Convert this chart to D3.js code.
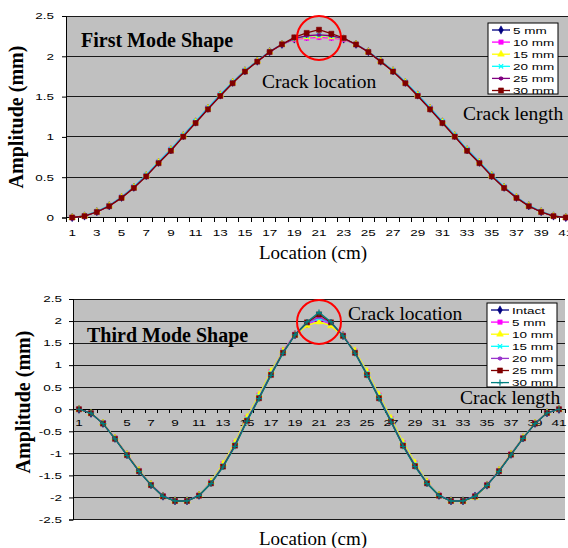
<!DOCTYPE html>
<html>
<head>
<meta charset="utf-8">
<script src="https://cdn.jsdelivr.net/npm/d3@7"></script>
<style>
html,body{margin:0;padding:0;background:#fff;}
svg{display:block;}
</style>
</head>
<body>
<svg id="chart" width="568" height="548"></svg>
<script>
// ---------- DATA ----------
const locations = d3.range(1, 42).map(String); // 1..41 cm
const xTickLabels = ["1","3","5","7","9","11","13","15","17","19","21","23","25","27","29","31","33","35","37","39","41"];
const yTicksFirst = [0, 0.5, 1, 1.5, 2, 2.5];
const yTickLabelsFirst = ["0","0.5","1","1.5","2","2.5"];
const yTicksThird = [-2.5,-2,-1.5,-1,-0.5,0,0.5,1,1.5,2,2.5];
const yTickLabelsThird = ["-2.5","-2","-1.5","-1","-0.5","0","0.5","1","1.5","2","2.5"];

// First mode shape (amplitude mm)
const first5mm  = [0,0.019,0.072,0.146,0.25,0.375,0.52,0.685,0.84,1.015,1.185,1.355,1.52,1.677,1.82,1.94,2.057,2.149,2.215,2.245,2.255,2.245,2.215,2.149,2.057,1.94,1.82,1.677,1.52,1.355,1.185,1.015,0.84,0.685,0.52,0.375,0.25,0.146,0.072,0.019,0];
const first10mm = [0,0.02,0.074,0.149,0.254,0.38,0.525,0.69,0.846,1.02,1.19,1.36,1.525,1.68,1.823,1.942,2.058,2.148,2.21,2.225,2.235,2.225,2.21,2.148,2.058,1.942,1.823,1.68,1.525,1.36,1.19,1.02,0.846,0.69,0.525,0.38,0.254,0.149,0.074,0.02,0];
const first15mm = [0,0.019,0.073,0.147,0.252,0.377,0.522,0.687,0.842,1.017,1.187,1.357,1.522,1.678,1.821,1.941,2.057,2.149,2.215,2.24,2.25,2.24,2.215,2.149,2.057,1.941,1.821,1.678,1.522,1.357,1.187,1.017,0.842,0.687,0.522,0.377,0.252,0.147,0.073,0.019,0];
const first20mm = [0,0.02,0.075,0.15,0.255,0.382,0.528,0.692,0.848,1.022,1.192,1.362,1.527,1.683,1.825,1.944,2.06,2.15,2.218,2.25,2.26,2.25,2.218,2.15,2.06,1.944,1.825,1.683,1.527,1.362,1.192,1.022,0.848,0.692,0.528,0.382,0.255,0.15,0.075,0.02,0];
const first25mm = [0,0.018,0.07,0.144,0.247,0.372,0.516,0.68,0.835,1.01,1.18,1.35,1.515,1.672,1.816,1.937,2.055,2.148,2.22,2.255,2.265,2.255,2.22,2.148,2.055,1.937,1.816,1.672,1.515,1.35,1.18,1.01,0.835,0.68,0.516,0.372,0.247,0.144,0.07,0.018,0];
const first30mm = [0,0.017,0.068,0.14,0.243,0.367,0.51,0.674,0.828,1.003,1.172,1.342,1.508,1.666,1.811,1.934,2.053,2.149,2.235,2.29,2.33,2.28,2.227,2.147,2.053,1.934,1.811,1.666,1.508,1.342,1.172,1.003,0.828,0.674,0.51,0.367,0.243,0.14,0.068,0.017,0];

// Third mode shape (amplitude mm)
const thirdIntact = [0,-0.09,-0.32,-0.66,-1.03,-1.395,-1.71,-1.97,-2.077,-2.077,-1.95,-1.66,-1.27,-0.79,-0.22,0.29,0.82,1.31,1.69,1.94,2.05,1.94,1.67,1.3,0.82,0.29,-0.24,-0.79,-1.25,-1.66,-1.95,-2.077,-2.077,-1.97,-1.72,-1.395,-1.02,-0.65,-0.32,-0.08,0];
const third5mm    = [0,-0.09,-0.31,-0.65,-1.02,-1.385,-1.7,-1.965,-2.075,-2.075,-1.945,-1.645,-1.24,-0.76,-0.19,0.32,0.85,1.33,1.7,1.93,2.04,1.93,1.68,1.32,0.85,0.32,-0.21,-0.76,-1.22,-1.645,-1.945,-2.075,-2.075,-1.965,-1.71,-1.385,-1.01,-0.64,-0.31,-0.08,0];
const third10mm   = [0,-0.09,-0.31,-0.65,-1.02,-1.38,-1.7,-1.975,-2.08,-2.08,-1.945,-1.64,-1.235,-0.75,-0.18,0.33,0.86,1.33,1.68,1.9,1.98,1.89,1.66,1.33,0.86,0.33,-0.2,-0.75,-1.21,-1.64,-1.945,-2.08,-2.085,-1.995,-1.72,-1.38,-1.01,-0.64,-0.31,-0.08,0];
const third15mm   = [0,-0.09,-0.32,-0.66,-1.03,-1.395,-1.71,-1.97,-2.077,-2.077,-1.95,-1.66,-1.27,-0.79,-0.22,0.29,0.82,1.31,1.69,1.95,2.06,1.95,1.67,1.3,0.82,0.29,-0.24,-0.79,-1.25,-1.66,-1.95,-2.077,-2.077,-1.97,-1.72,-1.395,-1.02,-0.65,-0.32,-0.08,0];
const third20mm   = [0,-0.09,-0.32,-0.665,-1.035,-1.4,-1.715,-1.97,-2.077,-2.077,-1.955,-1.67,-1.285,-0.805,-0.24,0.27,0.8,1.3,1.69,1.96,2.09,1.96,1.67,1.29,0.8,0.27,-0.26,-0.805,-1.265,-1.67,-1.955,-2.077,-2.077,-1.97,-1.72,-1.4,-1.025,-0.655,-0.32,-0.08,0];
const third25mm   = [0,-0.09,-0.325,-0.67,-1.04,-1.405,-1.72,-1.975,-2.08,-2.08,-1.96,-1.68,-1.3,-0.825,-0.26,0.25,0.78,1.28,1.685,1.97,2.15,1.97,1.665,1.28,0.78,0.25,-0.28,-0.825,-1.29,-1.68,-1.96,-2.08,-2.08,-1.975,-1.725,-1.405,-1.03,-0.66,-0.325,-0.085,0];
const third30mm   = [0,-0.09,-0.325,-0.67,-1.045,-1.41,-1.72,-1.975,-2.08,-2.08,-1.96,-1.685,-1.31,-0.84,-0.27,0.24,0.77,1.27,1.685,1.98,2.195,1.98,1.665,1.27,0.77,0.24,-0.29,-0.84,-1.3,-1.685,-1.96,-2.08,-2.08,-1.975,-1.725,-1.41,-1.035,-0.66,-0.325,-0.085,0];

const firstNames  = ["5 mm","10 mm","15 mm","20 mm","25 mm","30 mm"];
const firstColors = ["#000080","#ff00ff","#ffff00","#00ffff","#800080","#800000"];
const firstShapes = ["diamond","square","triangle","x","star","circle"];
const firstSeries = [first5mm, first10mm, first15mm, first20mm, first25mm, first30mm];

const thirdNames  = ["Intact","5 mm","10 mm","15 mm","20 mm","25 mm","30 mm"];
const thirdColors = ["#000080","#ff00ff","#ffff00","#00ffff","#9933cc","#800000","#008080"];
const thirdShapes = ["diamond","square","triangle","x","star","circle","plus"];
const thirdSeries = [thirdIntact, third5mm, third10mm, third15mm, third20mm, third25mm, third30mm];

// ---------- DRAW ----------
const svg = d3.select("#chart");
const SANS = "Arial, 'Liberation Sans', sans-serif";
const SERIF = "'Times New Roman', 'Liberation Serif', serif";
const SX = 1.42; // horizontal stretch of the small sans text

function symbolPath(shape, size) {
  const map = {
    diamond: d3.symbolDiamond, square: d3.symbolSquare, triangle: d3.symbolTriangle,
    x: d3.symbolTimes || d3.symbolCross, star: d3.symbolAsterisk || d3.symbolCross,
    circle: d3.symbolSquare, plus: d3.symbolPlus || d3.symbolCross
  };
  return d3.symbol().type(map[shape]).size(size)();
}
function isStroke(shape){ return shape === "x" || shape === "star" || shape === "plus"; }
function markSize(shape){ return shape === "circle" ? 26 : (isStroke(shape) ? 14 : 20); }

function stretchedText(g, x, y, txt, anchor, size) {
  g.append("text")
    .attr("transform", `translate(${x},${y}) scale(${SX},1)`)
    .attr("text-anchor", anchor)
    .attr("font-family", SANS)
    .attr("font-size", size)
    .attr("fill", "#000")
    .text(txt);
}

function drawChart(o) {
  const g = svg.append("g");
  const x = d3.scaleBand().domain(locations).range([o.left, o.right]).paddingInner(0).paddingOuter(0);
  const y = d3.scaleLinear().domain(o.yDomain).range([o.bottom, o.top]);
  const cx = d => x(d) + x.bandwidth() / 2;

  // plot background
  g.append("rect").attr("x", o.left).attr("y", o.top)
    .attr("width", o.right - o.left).attr("height", o.bottom - o.top)
    .attr("fill", "#c0c0c0");

  // gridlines
  g.selectAll(".grid").data(o.yTicks).join("line")
    .attr("x1", o.left).attr("x2", o.right)
    .attr("y1", d => y(d)).attr("y2", d => y(d))
    .attr("stroke", "#1a1a1a").attr("stroke-width", 1).attr("shape-rendering", "crispEdges");

  // y axis
  const yAxis = d3.axisLeft(y).tickValues(o.yTicks).tickSize(4).tickFormat("");
  const ya = g.append("g").attr("transform", `translate(${o.left},0)`).call(yAxis);
  ya.select(".domain").attr("stroke", "#000");
  ya.selectAll(".tick line").attr("stroke", "#000");
  o.yTicks.forEach((v, i) => stretchedText(g, o.yLabelX, y(v) + 3.3, o.yTickLabels[i], "end", 9.5));

  // x axis at zero
  const y0 = y(0);
  g.append("line").attr("x1", o.left).attr("x2", o.right).attr("y1", y0).attr("y2", y0)
    .attr("stroke", "#000").attr("shape-rendering", "crispEdges");
  const bounds = locations.map(d => x(d)).concat([x(locations[locations.length - 1]) + x.bandwidth()]);
  g.selectAll(".xt").data(bounds).join("line")
    .attr("x1", d => d).attr("x2", d => d).attr("y1", y0).attr("y2", y0 + 4)
    .attr("stroke", "#000").attr("shape-rendering", "crispEdges");
  xTickLabels.forEach(lbl => stretchedText(g, cx(lbl), o.xLabelY, lbl, "middle", 9.5));

  // series
  const line = d3.line().x((d, i) => cx(locations[i])).y(d => y(d));
  o.series.forEach((vals, si) => {
    const col = o.colors[si];
    g.append("path").datum(vals).attr("d", line)
      .attr("fill", "none").attr("stroke", col).attr("stroke-width", 1.3);
    const sh = o.shapes[si];
    const p = symbolPath(sh, markSize(sh));
    g.selectAll(null).data(vals).join("path")
      .attr("transform", (d, i) => `translate(${cx(locations[i])},${y(d)})`)
      .attr("d", p)
      .attr("fill", isStroke(sh) ? "none" : col)
      .attr("stroke", col).attr("stroke-width", isStroke(sh) ? 1.2 : 0.5);
  });

  // legend
  const L = o.legend;
  g.append("rect").attr("x", L.x).attr("y", L.y).attr("width", L.w).attr("height", L.h)
    .attr("fill", "#fff").attr("stroke", "#000").attr("stroke-width", 1);
  o.names.forEach((nm, i) => {
    const ly = L.y + L.first + i * L.step;
    const col = o.colors[i], sh = o.shapes[i];
    g.append("line").attr("x1", L.x + 4).attr("x2", L.x + 22).attr("y1", ly).attr("y2", ly)
      .attr("stroke", col).attr("stroke-width", 1.3);
    g.append("path").attr("transform", `translate(${L.x + 13},${ly})`)
      .attr("d", symbolPath(sh, markSize(sh)))
      .attr("fill", isStroke(sh) ? "none" : col).attr("stroke", col)
      .attr("stroke-width", isStroke(sh) ? 1.2 : 0.5);
    stretchedText(g, L.x + 25, ly + 3.5, nm, "start", 9.5);
  });

  // annotations
  g.append("circle").attr("cx", cx("21")).attr("cy", o.circleY).attr("r", 22)
    .attr("fill", "none").attr("stroke", "#ff0000").attr("stroke-width", 2);
  g.append("text").attr("x", o.titleX).attr("y", o.titleY).attr("font-family", SERIF)
    .attr("font-weight", "bold").attr("font-size", 20).text(o.title);
  g.append("text").attr("x", o.clX).attr("y", o.clY).attr("font-family", SERIF)
    .attr("font-size", 19.5).text("Crack location");
  g.append("text").attr("x", o.lenX).attr("y", o.lenY).attr("font-family", SERIF)
    .attr("font-size", 19.5).text("Crack length");
  g.append("text").attr("x", o.xTitleX).attr("y", o.xTitleY).attr("text-anchor", "middle")
    .attr("font-family", SERIF).attr("font-size", 19).text("Location (cm)");
  g.append("text").attr("transform", `translate(${o.yTitleX},${o.yTitleY}) rotate(-90)`)
    .attr("text-anchor", "middle").attr("font-family", SERIF).attr("font-weight", "bold")
    .attr("font-size", 20).text("Amplitude (mm)");
}

drawChart({
  left: 66, right: 572, top: 16, bottom: 217.5, yDomain: [0, 2.5],
  yTicks: yTicksFirst, yTickLabels: yTickLabelsFirst, yLabelX: 54, xLabelY: 236,
  series: firstSeries, colors: firstColors, shapes: firstShapes, names: firstNames,
  legend: { x: 488, y: 23, w: 70, h: 71, first: 7, step: 12.1 },
  circleY: 38, title: "First Mode Shape", titleX: 81, titleY: 47,
  clX: 262, clY: 88, lenX: 463, lenY: 120,
  xTitleX: 313, xTitleY: 259, yTitleX: 23, yTitleY: 117
});

drawChart({
  left: 73, right: 565, top: 299, bottom: 519.5, yDomain: [-2.5, 2.5],
  yTicks: yTicksThird, yTickLabels: yTickLabelsThird, yLabelX: 62, xLabelY: 426,
  series: thirdSeries, colors: thirdColors, shapes: thirdShapes, names: thirdNames,
  legend: { x: 487, y: 303, w: 70, h: 84, first: 7, step: 12.1 },
  circleY: 322, title: "Third Mode Shape", titleX: 87, titleY: 342,
  clX: 348, clY: 320, lenX: 460, lenY: 404,
  xTitleX: 313, xTitleY: 545, yTitleX: 30, yTitleY: 402
});
</script>
</body>
</html>
